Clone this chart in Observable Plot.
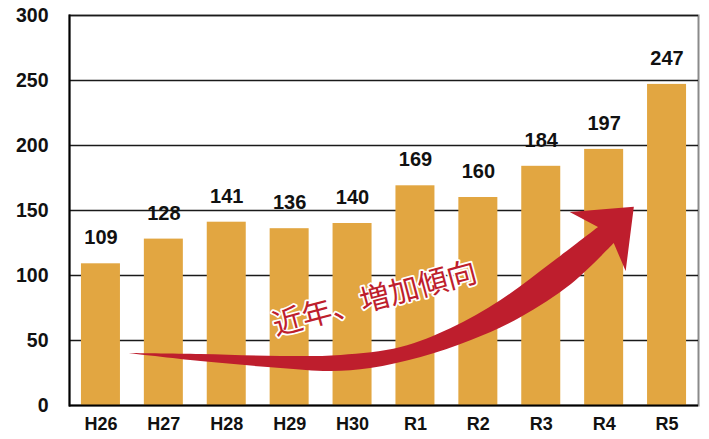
<!DOCTYPE html>
<html><head><meta charset="utf-8">
<script src="https://cdn.jsdelivr.net/npm/d3@7"></script>
<script src="https://cdn.jsdelivr.net/npm/@observablehq/plot@0.6"></script>
<style>
body{margin:0;background:#fff}
#chart svg{display:block}
g[aria-label="y-axis tick label"] text{font-family:"Liberation Sans",Arial,sans-serif;font-weight:bold;font-size:19.5px;fill:#111}
g[aria-label="x-axis tick label"] text{font-family:"Liberation Sans Narrow","Liberation Sans",sans-serif;font-weight:bold;font-size:18px;fill:#111}
</style>
</head><body><div id="chart"></div>
<script>
const categories = ["H26","H27","H28","H29","H30","R1","R2","R3","R4","R5"];
const values = [109,128,141,136,140,169,160,184,197,247];
const yTicks = [0,50,100,150,200,250,300];
const annotationText = "近年、増加傾向";
// annotation arrow outline in data units: [category position (0 = H26 … 9 = R5), value]
const arrowTop = [[0.445,40],[1.59,39.2],[2.86,37.7],[3.82,38.5],[4.77,44.6],[5.57,59.2],[6.36,80.8],[7.16,109.2],[7.91,136.9]];
const arrowHead = [[7.46,148.5],[8.48,152.5],[8.35,103]];
const arrowBottom = [[8.16,124.6],[7.48,93.1],[6.68,67.7],[5.89,50],[5.09,36.9],[4.29,28.5],[3.66,26.2],[2.86,28.5],[1.59,33.8],[0.445,40]];
const annotationAt = [4.35, 84];

const data = categories.map((c, i) => ({year: c, value: values[i]}));

const plot = Plot.plot({
  width: 709, height: 439,
  marginLeft: 69, marginRight: 11, marginTop: 15, marginBottom: 34,
  x: {domain: categories, paddingInner: 0.38, paddingOuter: 0.19, round: false, label: null},
  y: {domain: [0, 300], label: null},
  style: {background: "#fff"},
  marks: [
    Plot.frame({stroke: "#8a8a8a", strokeWidth: 2}),
    Plot.ruleY(yTicks.filter(d => d > 0), {stroke: "#1a1a1a", strokeWidth: 1.5}),
    Plot.barY(data, {x: "year", y: "value", fill: "#E2A641"}),
    Plot.frame({anchor: "left", stroke: "#000", strokeWidth: 2}),
    Plot.ruleY([0], {stroke: "#000", strokeWidth: 2}),
    Plot.axisY({ticks: yTicks, tickSize: 0, tickPadding: 21, fontSize: 19.5, fontWeight: "bold"}),
    Plot.axisX({tickSize: 0, tickPadding: 12, fontSize: 18, fontWeight: "bold"}),
    Plot.text(data, {x: "year", y: "value", text: d => String(d.value), dy: -26,
      fontSize: 20, fontWeight: "bold", fontFamily: "Liberation Sans, Arial, sans-serif", fill: "#111"})
  ]
});
document.getElementById("chart").appendChild(plot);

const xs = plot.scale("x"), ys = plot.scale("y");
const x0 = xs.apply(categories[0]) + xs.bandwidth / 2;
const step = xs.apply(categories[1]) - xs.apply(categories[0]);
const px = i => x0 + i * step;
const py = v => ys.apply(v);
const toPx = p => [px(p[0]), py(p[1])];
const curve = d3.line().curve(d3.curveCatmullRom.alpha(0.5));
const d = curve(arrowTop.map(toPx))
  + arrowHead.map(p => "L" + toPx(p).join(",")).join("")
  + curve(arrowBottom.map(toPx)).replace(/^M/, "L") + "Z";
const svg = d3.select(plot);
svg.append("path").attr("d", d).attr("fill", "#BE1E2D");
const [tx, ty] = toPx(annotationAt);
svg.append("text")
  .attr("transform", `translate(${tx},${ty}) rotate(-15)`)
  .attr("text-anchor", "middle").attr("dominant-baseline", "central")
  .attr("font-family", "Noto Sans CJK JP, sans-serif").attr("font-size", 30)
  .attr("fill", "#BE1E2D").attr("stroke", "#fff").attr("stroke-width", 3.5)
  .attr("paint-order", "stroke").attr("stroke-linejoin", "round")
  .text(annotationText);
</script>
</body></html>
